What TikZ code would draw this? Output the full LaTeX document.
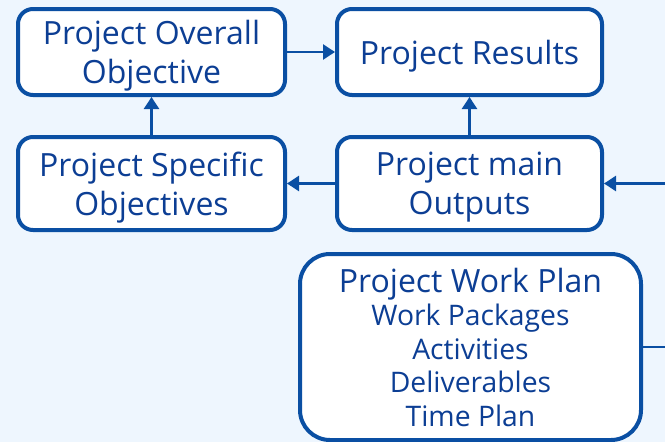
\documentclass[tikz,border=0pt]{standalone}
\usepackage{fontspec}
\setmainfont{Open Sans}
\usetikzlibrary{arrows.meta,positioning}
\definecolor{PlanBlue}{RGB}{10,79,163}
\definecolor{PlanInk}{RGB}{12,62,148}
\definecolor{PlanSky}{RGB}{238,246,254}
\tikzset{
  pbox/.style ={rectangle, rounded corners=15pt, draw=PlanBlue, line width=4pt,
                fill=white, text=PlanInk, align=center, inner sep=0pt, text depth=0pt,
                font=\fontsize{32}{39}\selectfont},
  arr/.style  ={-{Triangle[length=12pt,width=15pt]}, draw=PlanBlue, line width=2.6pt},
  feed/.style ={draw=PlanBlue, line width=2.6pt},
}

\begin{document}
\begin{tikzpicture}[x=1pt,y=-1pt]
  \fill[PlanSky] (0,0) rectangle (665,442);
  \useasboundingbox (0,0) rectangle (665,442);

  \node[pbox,minimum width=267pt,minimum height=86pt] (oo) at (151.5,52) {Project Overall\\Objective};
  \node[pbox,minimum width=265pt,minimum height=86pt] (pr) at (469.5,52) {Project Results};
  \node[pbox,minimum width=267pt,minimum height=93pt] (pso) at (151.5,183.5) {Project Specific\\Objectives};
  \node[pbox,minimum width=265pt,minimum height=93pt] (pmo) at (469.5,183.5) {Project main\\Outputs};

  % the plan box runs off the bottom edge
  \node[pbox,rounded corners=30pt,minimum width=341pt,minimum height=186pt,text depth=-9pt,
        font=\fontsize{28.3}{33.5}\selectfont] (wp) at (470.5,347)
    {{\fontsize{32}{34}\selectfont Project Work Plan}\\Work Packages\\Activities\\Deliverables\\Time Plan};

  % links coming in from the right
  \coordinate (inO) at (665,183.5);
  \coordinate (outW) at (665,347);

  \draw[arr] (oo.east) -- (pr.west);
  \draw[arr] (pso.north) -- (oo.south);
  \draw[arr] (pmo.north) -- (pr.south);
  \draw[arr] (pmo.west) -- (pso.east);
  \draw[arr] (inO) -- (pmo.east);
  \draw[feed] (wp.east) -- (outW);
\end{tikzpicture}
\end{document}
